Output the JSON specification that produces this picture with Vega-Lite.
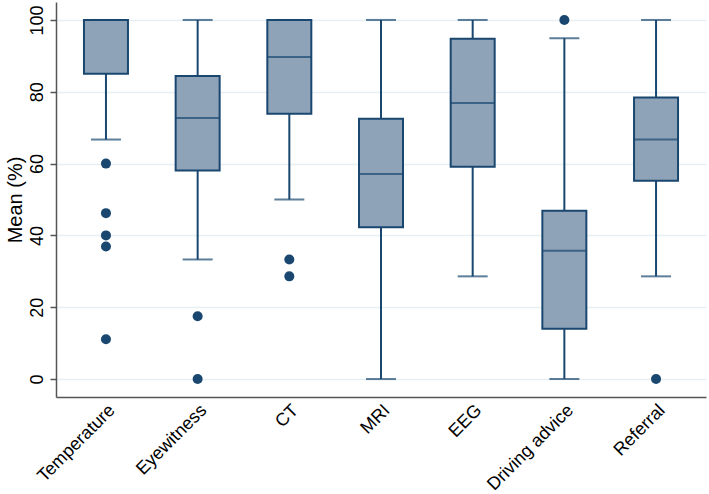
{
  "$schema": "https://vega.github.io/schema/vega-lite/v6.json",
  "autosize": {"type": "none"},
  "width": 650,
  "height": 395,
  "padding": {"left": 56, "top": 2, "right": 3, "bottom": 97},
  "background": "white",
  "config": {
    "view": {"stroke": null},
    "font": "Liberation Sans",
    "axis": {"labelFont": "Liberation Sans", "titleFont": "Liberation Sans", "labelColor": "#000000", "titleColor": "#000000"}
  },
  "datasets": {
    "boxes": [
      {"cat": "Temperature", "min": 66.7, "q1": 85, "median": 100, "q3": 100, "max": 100},
      {"cat": "Eyewitness", "min": 33.3, "q1": 58.1, "median": 72.7, "q3": 84.4, "max": 100},
      {"cat": "CT", "min": 50, "q1": 73.9, "median": 89.7, "q3": 100, "max": 100},
      {"cat": "MRI", "min": 0, "q1": 42.3, "median": 57.1, "q3": 72.5, "max": 100},
      {"cat": "EEG", "min": 28.6, "q1": 59.1, "median": 76.9, "q3": 94.8, "max": 100},
      {"cat": "Driving advice", "min": 0, "q1": 14, "median": 35.7, "q3": 46.9, "max": 94.9},
      {"cat": "Referral", "min": 28.6, "q1": 55.2, "median": 66.7, "q3": 78.4, "max": 100}
    ],
    "outliers": [
      {"cat": "Temperature", "value": 60},
      {"cat": "Temperature", "value": 46.2},
      {"cat": "Temperature", "value": 40},
      {"cat": "Temperature", "value": 36.9},
      {"cat": "Temperature", "value": 11.1},
      {"cat": "Eyewitness", "value": 17.5},
      {"cat": "Eyewitness", "value": 0},
      {"cat": "CT", "value": 33.3},
      {"cat": "CT", "value": 28.6},
      {"cat": "Driving advice", "value": 100},
      {"cat": "Referral", "value": 0}
    ]
  },
  "encoding": {
    "x": {
      "field": "cat", "type": "nominal",
      "sort": ["Temperature", "Eyewitness", "CT", "MRI", "EEG", "Driving advice", "Referral"],
      "scale": {"paddingInner": 0, "paddingOuter": 0.045},
      "axis": {
        "title": null, "labelAngle": -45, "labelFontSize": 18, "ticks": false,
        "domainColor": "#555555", "domainWidth": 1.5, "labelPadding": 4, "grid": false
      }
    }
  },
  "layer": [
    {
      "data": {"name": "boxes"},
      "mark": {"type": "rule", "color": "#1a476f", "strokeWidth": 2},
      "encoding": {
        "y": {
          "field": "min", "type": "quantitative",
          "scale": {"domain": [-5, 105], "nice": false, "zero": false},
          "axis": {
            "title": "Mean (%)", "titleFontSize": 20, "titleFontWeight": "normal", "titlePadding": 3,
            "values": [0, 20, 40, 60, 80, 100], "labelAngle": -90, "labelAlign": "center", "labelBaseline": "bottom",
            "labelFontSize": 18, "labelPadding": 4, "tickSize": 6, "tickColor": "#555555", "tickWidth": 1.5,
            "domainColor": "#555555", "domainWidth": 1.5,
            "grid": true, "gridColor": "#e6eff1", "gridWidth": 1.5
          }
        },
        "y2": {"field": "max"}
      }
    },
    {
      "data": {"name": "boxes"},
      "mark": {"type": "tick", "color": "#1a476f", "thickness": 2, "size": 30},
      "encoding": {"y": {"field": "min", "type": "quantitative"}}
    },
    {
      "data": {"name": "boxes"},
      "mark": {"type": "tick", "color": "#1a476f", "thickness": 2, "size": 30},
      "encoding": {"y": {"field": "max", "type": "quantitative"}}
    },
    {
      "data": {"name": "boxes"},
      "mark": {"type": "bar", "width": 44, "fill": "#8ea3b8", "stroke": "#1a476f", "strokeWidth": 2},
      "encoding": {"y": {"field": "q1", "type": "quantitative"}, "y2": {"field": "q3"}}
    },
    {
      "data": {"name": "boxes"},
      "mark": {"type": "tick", "color": "#1a476f", "thickness": 2, "size": 44},
      "encoding": {"y": {"field": "median", "type": "quantitative"}}
    },
    {
      "data": {"name": "outliers"},
      "mark": {"type": "circle", "color": "#1a476f", "opacity": 1, "size": 100},
      "encoding": {"y": {"field": "value", "type": "quantitative"}}
    }
  ]
}
